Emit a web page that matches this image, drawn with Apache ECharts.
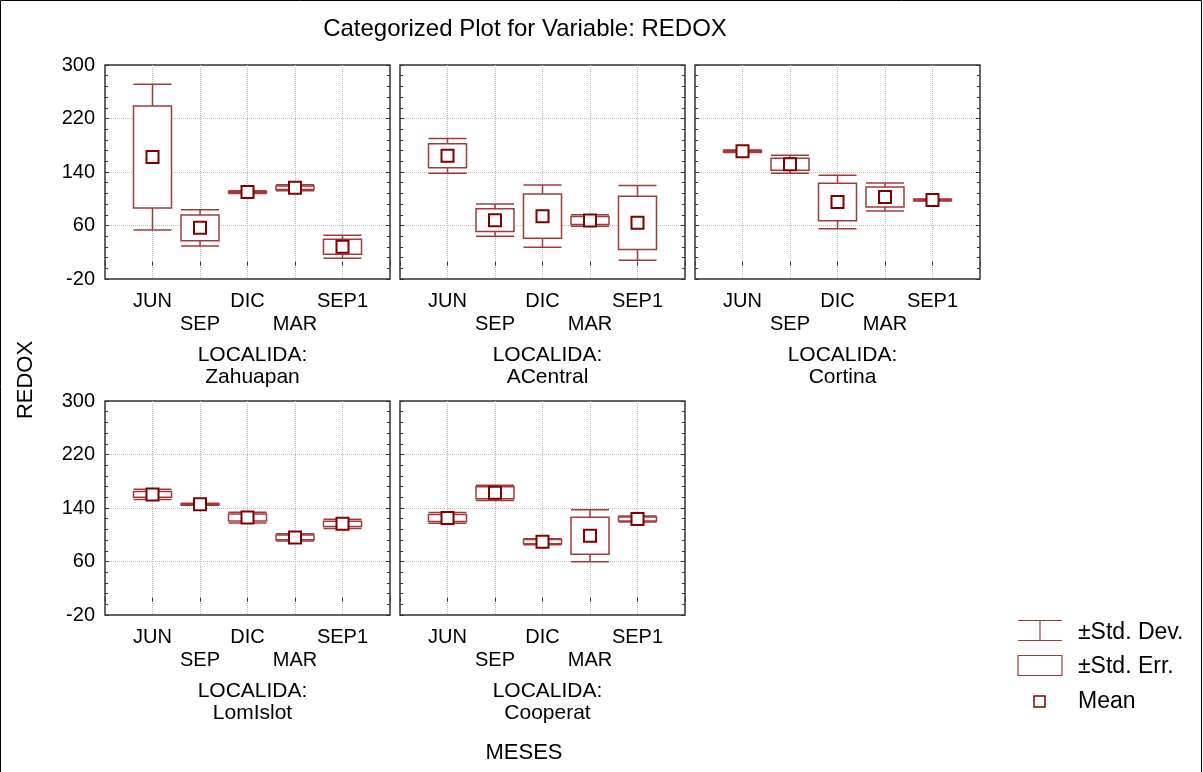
<!DOCTYPE html>
<html>
<head>
<meta charset="utf-8">
<script src="https://cdn.jsdelivr.net/npm/echarts@6/dist/echarts.min.js"></script>
<style>
  html, body { margin: 0; padding: 0; background: #fff; }
  #main { width: 1203px; height: 772px; }
</style>
</head>
<body>
<div id="main"></div>
<script>
// categorias (meses) y localidades
var meses = ['JUN', 'SEP', 'DIC', 'MAR', 'SEP1'];
var localidades = ['Zahuapan', 'ACentral', 'Cortina', 'LomIslot', 'Cooperat'];
var yTicks = [-20, 60, 140, 220, 300];

// media por localidad (filas) y mes (columnas)
var medias = [
    [162.4, 56.5, 110.0, 116.5, 28.2],
    [164.2, 68.0, 74.0, 67.5, 64.0],
    [171.0, 151.5, 95.0, 102.5, 98.0],
    [160.3, 145.5, 125.7, 96.0, 116.3],
    [125.2, 162.7, 89.6, 98.5, 123.7]
];
// error estandar
var errEst = [
    [76.3, 19.2, 1.0, 2.7, 11.2],
    [18.0, 17.0, 33.0, 6.0, 39.8],
    [1.0, 9.0, 28.0, 15.0, 0.8],
    [4.2, 0.8, 5.2, 3.5, 4.0],
    [5.2, 8.9, 3.2, 27.5, 3.0]
];
// desviacion estandar
var desvEst = [
    [109.0, 27.0, 2.0, 4.5, 17.2],
    [26.0, 24.0, 46.5, 8.5, 56.0],
    [2.0, 13.5, 40.0, 21.0, 1.5],
    [7.7, 1.5, 8.0, 5.5, 7.0],
    [8.0, 11.4, 4.5, 39.0, 4.5]
];

window.onload = function () {
    var myChart = echarts.init(document.getElementById('main'));

    var font = 'Liberation Sans, Arial, sans-serif';
    var rojo = '#800000';
    var rojoCaja = '#a33a3a';

    // posicion de cada panel (izq, arriba)
    var paneles = [
        [105, 65], [400, 65], [695, 65],
        [105, 401], [400, 401]
    ];
    var anchoP = 285, altoP = 214;

    var grids = [], xAxes = [], yAxes = [], series = [], titles = [];

    function dibujar(params, api) {
        var x = api.value(0), m = api.value(1), se = api.value(2), sd = api.value(3);
        var c = api.coord([x, m]);
        var dTop = api.coord([x, m + sd])[1];
        var dBot = api.coord([x, m - sd])[1];
        var eTop = api.coord([x, m + se])[1];
        var eBot = api.coord([x, m - se])[1];
        var hw = 19;
        var lineStyle = { stroke: rojoCaja, lineWidth: 1.5, fill: null };
        return {
            type: 'group',
            children: [
                { type: 'line', shape: { x1: c[0], y1: dTop, x2: c[0], y2: dBot }, style: lineStyle },
                { type: 'line', shape: { x1: c[0] - hw, y1: dTop, x2: c[0] + hw, y2: dTop }, style: lineStyle },
                { type: 'line', shape: { x1: c[0] - hw, y1: dBot, x2: c[0] + hw, y2: dBot }, style: lineStyle },
                { type: 'rect', shape: { x: c[0] - hw, y: eTop, width: 2 * hw, height: eBot - eTop },
                  style: { stroke: rojoCaja, lineWidth: 1.5, fill: '#fff' } },
                { type: 'rect', shape: { x: c[0] - 6, y: c[1] - 6, width: 12, height: 12 },
                  style: { stroke: rojo, lineWidth: 2, fill: '#fff' } }
            ]
        };
    }

    localidades.forEach(function (loc, i) {
        var p = paneles[i];
        var primeraCol = (i === 0 || i === 3);
        grids.push({
            left: p[0], top: p[1], width: anchoP, height: altoP,
            show: true, borderColor: '#333', borderWidth: 1.5, backgroundColor: '#fff'
        });
        xAxes.push({
            type: 'value', gridIndex: i, min: 0, max: 6, interval: 1,
            axisLine: { show: false },
            axisTick: { show: true, inside: true, length: 4, lineStyle: { color: '#333' } },
            splitLine: { show: true, showMinLine: false, showMaxLine: false,
                         lineStyle: { type: 'dotted', color: '#bbb' } },
            axisLabel: {
                margin: 11, color: '#000', fontSize: 20, fontFamily: font, lineHeight: 23,
                formatter: function (v) {
                    if (v < 1 || v > 5) return '';
                    var k = v - 1;
                    return (k % 2 === 1 ? '\n' : '') + meses[k];
                }
            }
        });
        yAxes.push({
            type: 'value', gridIndex: i, min: -20, max: 300, interval: 80,
            axisLine: { show: false },
            axisTick: { show: true, inside: true, length: 4, lineStyle: { color: '#333' } },
            minorTick: { show: true, splitNumber: 5, length: 3, lineStyle: { color: '#333' } },
            splitLine: { show: true, showMinLine: false, showMaxLine: false,
                         lineStyle: { type: 'dotted', color: '#bbb' } },
            axisLabel: { show: primeraCol, margin: 10, color: '#000', fontSize: 20, fontFamily: font }
        });
        // eje derecho solo para las marcas
        yAxes.push({
            type: 'value', gridIndex: i, min: -20, max: 300, interval: 80, position: 'right',
            axisLine: { show: false },
            axisTick: { show: true, inside: true, length: 4, lineStyle: { color: '#333' } },
            minorTick: { show: true, splitNumber: 5, length: 3, lineStyle: { color: '#333' } },
            splitLine: { show: false },
            axisLabel: { show: false }
        });
        series.push({
            type: 'custom',
            name: loc,
            xAxisIndex: i,
            yAxisIndex: 2 * i,
            renderItem: dibujar,
            clip: false,
            data: meses.map(function (mes, j) {
                return [j + 1, medias[i][j], errEst[i][j], desvEst[i][j]];
            })
        });
        titles.push({
            text: 'LOCALIDA:\n' + loc,
            left: p[0] + anchoP / 2,
            top: p[1] + altoP + 60,
            textAlign: 'center',
            textStyle: { fontSize: 21, fontWeight: 'normal', color: '#000', fontFamily: font, lineHeight: 22 }
        });
    });

    titles.push({
        text: 'Categorized Plot for Variable: REDOX',
        left: 520, top: 12, textAlign: 'center',
        textStyle: { fontSize: 24, fontWeight: 'normal', color: '#000', fontFamily: font }
    });

    var option = {
        backgroundColor: '#fff',
        animation: false,
        title: titles,
        grid: grids,
        xAxis: xAxes,
        yAxis: yAxes,
        series: series,
        graphic: [
            // marco exterior
            { type: 'rect', shape: { x: 0.5, y: 0.5, width: 1201, height: 800 },
              style: { stroke: '#000', fill: null, lineWidth: 1 }, silent: true },
            { type: 'text', x: 26, y: 380, rotation: Math.PI / 2,
              style: { text: 'REDOX', fontSize: 22, fontFamily: font, fill: '#000', align: 'center', verticalAlign: 'middle' } },
            { type: 'text', x: 524, y: 753,
              style: { text: 'MESES', fontSize: 22, fontFamily: font, fill: '#000', align: 'center', verticalAlign: 'middle' } },
            // leyenda
            { type: 'line', shape: { x1: 1018, y1: 620.5, x2: 1062, y2: 620.5 }, style: { stroke: rojoCaja, lineWidth: 1.2 } },
            { type: 'line', shape: { x1: 1018, y1: 640.5, x2: 1062, y2: 640.5 }, style: { stroke: rojoCaja, lineWidth: 1.2 } },
            { type: 'line', shape: { x1: 1040, y1: 620.5, x2: 1040, y2: 640.5 }, style: { stroke: rojoCaja, lineWidth: 1.2 } },
            { type: 'rect', shape: { x: 1018, y: 655.5, width: 44, height: 20 }, style: { stroke: rojoCaja, fill: '#fff', lineWidth: 1.2 } },
            { type: 'rect', shape: { x: 1034, y: 696, width: 11, height: 11 }, style: { stroke: rojo, fill: '#fff', lineWidth: 1.5 } },
            { type: 'text', x: 1078, y: 633, style: { text: '±Std. Dev.', fontSize: 23, fontFamily: font, fill: '#000', verticalAlign: 'middle' } },
            { type: 'text', x: 1078, y: 667, style: { text: '±Std. Err.', fontSize: 23, fontFamily: font, fill: '#000', verticalAlign: 'middle' } },
            { type: 'text', x: 1078, y: 702, style: { text: 'Mean', fontSize: 23, fontFamily: font, fill: '#000', verticalAlign: 'middle' } }
        ]
    };

    myChart.setOption(option);
};
</script>
</body>
</html>
